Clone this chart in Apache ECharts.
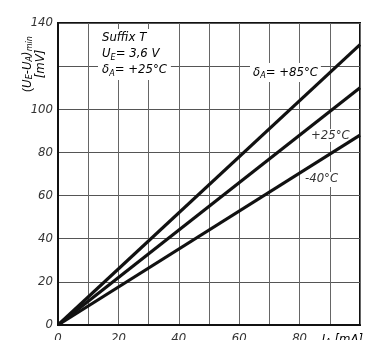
<!DOCTYPE html>
<html>
<head>
<meta charset="utf-8">
<script src="https://cdn.jsdelivr.net/npm/echarts@6/dist/echarts.min.js"></script>
<style>
	html, body { margin: 0; padding: 0; background: #fff; }
	#chart { width: 370px; height: 340px; }
</style>
</head>
<body>
<div id="chart"></div>
<script>
	/* I_A in mA */
	var currentMA = [0, 100];
	/* (U_E - U_A)min in mV for each ambient temperature */
	var drop85 = [0, 130];
	var drop25 = [0, 110];
	var dropMinus40 = [0, 88];
	var xTickLabels = ['0', '20', '40', '60', '80', ''];
	var yTickLabels = ['0', '20', '40', '60', '80', '100', '', '140'];

	var font = '"Liberation Sans Narrow", "DejaVu Sans Condensed", "Liberation Sans", sans-serif';
	var txt = '#333';

	function pairs(xs, ys) {
		return xs.map(function (x, i) { return [x, ys[i]]; });
	}

	var lineStyle = { color: '#111', width: 3.2 };
	var sub = { fontSize: 9, verticalAlign: 'bottom', padding: [6, 0, 0, 0], fontStyle: 'italic', fontFamily: font, color: txt };
	var it = { fontSize: 13, fontStyle: 'italic', fontFamily: font, color: txt };

	var chart = echarts.init(document.getElementById('chart'));
	chart.setOption({
		animation: false,
		grid: {
			left: 58, top: 23, right: 10, bottom: 15,
			outerBoundsMode: 'none',
			show: true, borderColor: '#111', borderWidth: 2
		},
		xAxis: {
			type: 'value', min: 0, max: 100, interval: 20,
			axisLine: { lineStyle: { color: '#111', width: 2 } },
			axisTick: { show: false },
			axisLabel: {
				color: txt, fontStyle: 'italic', fontSize: 13, fontFamily: font, margin: 7,
				formatter: function (v) { return xTickLabels[v / 20]; }
			},
			splitLine: { lineStyle: { color: '#666', width: 1 } },
			minorTick: { show: false, splitNumber: 2 },
			minorSplitLine: { show: true, lineStyle: { color: '#666', width: 1 } }
		},
		yAxis: {
			type: 'value', min: 0, max: 140, interval: 20,
			axisLine: { show: true, lineStyle: { color: '#111', width: 2 } },
			axisTick: { show: false },
			axisLabel: {
				color: txt, fontStyle: 'italic', fontSize: 13, fontFamily: font, margin: 5,
				formatter: function (v) { return yTickLabels[v / 20]; }
			},
			splitLine: { lineStyle: { color: '#555', width: 1 } }
		},
		series: [
			{ type: 'line', data: pairs(currentMA, drop85), symbol: 'none', lineStyle: lineStyle, z: 3 },
			{ type: 'line', data: pairs(currentMA, drop25), symbol: 'none', lineStyle: lineStyle, z: 3 },
			{ type: 'line', data: pairs(currentMA, dropMinus40), symbol: 'none', lineStyle: lineStyle, z: 3 }
		],
		graphic: [
			/*y轴名称*/
			{
				type: 'text', x: 34, y: 64, rotation: Math.PI / 2,
				style: {
					text: '({i|U}{s|E}{i|-U}{s|A}{i|)}{s|min}\n{i|[mV]}',
					align: 'center', verticalAlign: 'middle', lineHeight: 13,
					rich: { i: it, s: sub }
				}
			},
			/*x轴名称*/
			{
				type: 'text', x: 363, y: 332,
				style: {
					text: '{i|I}{s|A}{i| [mA]}', align: 'right', verticalAlign: 'top',
					rich: { i: it, s: sub }
				}
			},
			/*条件说明*/
			{
				type: 'text', x: 98, y: 29, z: 10,
				style: {
					text: '{i|Suffix T}\n{i|U}{s|E}{i|= 3,6 V}\n{i|δ}{s|A}{i|= +25°C}',
					backgroundColor: '#fff', padding: [1, 4, 2, 4], lineHeight: 16,
					rich: { i: { fontSize: 13, fontStyle: 'italic', fontFamily: font, color: txt, lineHeight: 16 }, s: sub }
				}
			},
			/*曲线标注*/
			{
				type: 'text', x: 250, y: 63, z: 2,
				style: {
					text: '{i|δ}{s|A}{i|= +85°C}', backgroundColor: '#fff', padding: [2, 3, 2, 3],
					rich: { i: it, s: sub }
				}
			},
			{
				type: 'text', x: 309, y: 129, z: 2,
				style: {
					text: '+25°C', backgroundColor: '#fff', padding: [0, 2, 0, 2],
					fontSize: 13, fontStyle: 'italic', fontFamily: font, fill: txt
				}
			},
			{
				type: 'text', x: 303, y: 172, z: 2,
				style: {
					text: '-40°C', backgroundColor: '#fff', padding: [0, 2, 2, 2],
					fontSize: 13, fontStyle: 'italic', fontFamily: font, fill: txt
				}
			}
		]
	});
</script>
</body>
</html>
